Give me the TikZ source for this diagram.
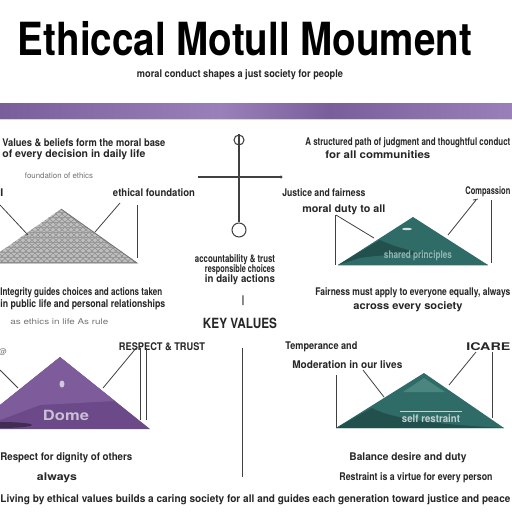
\documentclass[tikz,border=0pt]{standalone}
\usepackage{fontspec}
\setmainfont{TeX Gyre Heros}
\usepackage{graphicx}
\usetikzlibrary{positioning}
\definecolor{barpurple}{HTML}{7A5E9C}
\definecolor{barlight}{HTML}{9A80B8}
\definecolor{pyrpurple}{HTML}{6C4A8A}
\definecolor{pyrpurplel}{HTML}{7E5C9C}
\definecolor{pyrgreen}{HTML}{2F6B67}
\definecolor{pyrgreend}{HTML}{22504D}
\definecolor{pyrgreenl}{HTML}{4A8580}
\newlength\pxu
\setlength\pxu{0.02cm}
\newcommand{\fitw}[2]{\resizebox{#1\pxu}{\height}{#2}}
\tikzset{every node/.style={inner sep=0pt},
    txt/.style={font=\bfseries\fontsize{6}{7}\selectfont, text=black!85},
    faint/.style={font=\fontsize{4.5}{5}\selectfont, text=black!55},
    inner/.style={font=\bfseries\fontsize{6}{7}\selectfont},
    leader/.style={draw=black!75, line width=0.45pt},
    ttl/.style={font=\bfseries\fontsize{26}{26}\selectfont}}

\begin{document}
\begin{tikzpicture}[x=0.02cm, y=-0.02cm]
    \useasboundingbox (0,0) rectangle (512,512);
    \fill[white] (0,0) rectangle (512,512);

    % heading
    \node[ttl] (title) at (245,39) {\fitw{454}{Ethiccal Motull Moument}};
    \node[txt] (sub) at (240,75) {\fitw{206}{moral conduct shapes a just society for people}};
    \shade[left color=barpurple, right color=barlight] (0,103) rectangle (220,118);
    \shade[left color=barlight, right color=barpurple] (220,103) rectangle (330,118);
    \shade[left color=barpurple, right color=barlight] (330,103) rectangle (512,118);
    \draw[black!15] (0,119.5) -- (512,119.5);

    % top left block
    \node[txt, anchor=west] (tl1) at (2,143) {\fitw{163}{Values \& beliefs form the moral base}};
    \node[txt, anchor=west] (tl2) at (2,155) {\fitw{143}{of every decision in daily life}};
    \node[faint] (tl3) at (59,176) {\fitw{68}{foundation of ethics}};
    \node[txt, anchor=west] (lA) at (0,193) {I};
    \node[txt] (lB) at (154,193) {\fitw{82}{ethical foundation}};
    \fill[black!25] (61,209) -- (137,263) -- (0,263) -- (0,252) -- cycle;
    \begin{scope}
        \clip (61,209) -- (137,263) -- (0,263) -- (0,252) -- cycle;
        \foreach \i in {-140,-134,...,140} {
            \draw[black!45, line width=0.3pt] (\i,200) -- (\i+80,270);
            \draw[black!45, line width=0.3pt] (\i,270) -- (\i+80,200);
        }
        \foreach \j in {212,217,...,263}
            \draw[black!40, line width=0.25pt] (0,\j) -- (140,\j);
    \end{scope}
    \draw[black!55, line width=0.5pt] (61,209) -- (137,263) -- (0,263);
    \draw[leader] (0,205) -- (28,235);
    \draw[leader] (120,203) -- (95,232);
    \draw[leader] (137,205) -- (137,258);
    \node[txt, anchor=west] (bl1) at (0,293) {\fitw{162}{Integrity guides choices and actions taken}};
    \node[txt, anchor=west] (bl2) at (0,305) {\fitw{165}{in public life and personal relationships}};

    % centre symbol
    \coordinate (hl) at (198,177);
    \coordinate (hr) at (281,177);
    \node[draw=black!75, circle, minimum size=10\pxu, line width=0.6pt] (ctop) at (239,140) {};
    \node[draw=black!75, circle, minimum size=14\pxu, line width=0.6pt] (cbot) at (239,230) {};
    \draw[black!75, line width=0.6pt] (ctop.north) -- (cbot.north);
    \draw[black!75, line width=0.6pt] (hl) -- (hr);
    \fill[black!75] (hr) circle (1.6);
    \node[txt] (c1) at (235,260) {\fitw{80}{accountability \& trust}};
    \node[txt] (c2) at (240,270) {\fitw{70}{responsible choices}};
    \node[txt] (c3) at (240,280) {\fitw{70}{in daily actions}};
    \node[txt] (c4) at (243,301) {|};
    \node[txt, font=\bfseries\fontsize{8}{9}\selectfont] (c5) at (240,323) {\fitw{74}{KEY VALUES}};

    % top right block
    \node[txt, anchor=west] (tr1) at (305,143) {\fitw{205}{A structured path of judgment and thoughtful conduct}};
    \node[txt, anchor=west] (tr2) at (325,155) {\fitw{105}{for all communities}};
    \node[txt, anchor=west] (gA) at (282,193) {\fitw{83}{Justice and fairness}};
    \node[txt, anchor=west] (gB) at (302,210) {\fitw{83}{moral duty to all}};
    \node[txt, anchor=west] (gC) at (465,192) {\fitw{45}{Compassion}};
    \fill[pyrgreen] (413,217) -- (488,265) -- (338,265) -- cycle;
    \fill[pyrgreend] (338,265) -- (380,240) .. controls (400,250) and (440,258) .. (488,265) -- cycle;
    \fill[pyrgreen] (360,258) .. controls (400,252) and (440,255) .. (488,265) -- (338,265) -- cycle;
    \fill[white!80!pyrgreen] (407,229) ellipse (5 and 1.2);
    \node[inner, text=pyrgreenl!60!white] (gI) at (418,256) {\fitw{68}{shared principles}};
    \draw[leader] (335,215) -- (335,265);
    \draw[leader] (336,215) -- (374,238);
    \draw[leader] (473,200) -- (478,199) (476,200) -- (448,235);
    \draw[leader] (491,200) -- (491,263);
    \node[txt, anchor=west] (gr1) at (315,293) {\fitw{195}{Fairness must apply to everyone equally, always}};
    \node[txt] (gr2) at (408,307) {\fitw{109}{across every society}};

    % bottom left block
    \node[faint, anchor=west] (pl0) at (10,322) {\fitw{98}{as ethics in life  As rule}};
    \node[txt] (pA) at (162,347) {\fitw{86}{RESPECT \& TRUST}};
    \node[faint] (pB) at (3,352) {@};
    \fill[pyrpurple] (60,357) -- (150,429) -- (0,429) -- (0,405) -- cycle;
    \fill[pyrpurplel] (60,357) -- (115,401) -- (40,405) -- (0,420) -- (0,405) -- cycle;
    \fill[pyrpurple!60!black] (0,425) ellipse (32 and 3);
    \fill[white!70!pyrpurple] (62,384) ellipse (2.5 and 3.5);
    \node[inner, font=\bfseries\fontsize{8}{9}\selectfont, text=white!65!pyrpurple] (pI) at (66,415) {\fitw{46}{Dome}};
    \draw[leader] (0,370) -- (18,388);
    \draw[leader] (137,347) -- (103,388);
    \draw[leader] (140,348) -- (140,420);
    \draw[leader] (146,348) -- (146,420);
    \draw[leader] (242,348) -- (242,477);
    \node[txt, anchor=west] (pl1) at (0,458) {\fitw{132}{Respect for dignity of others}};
    \node[txt] (pl2) at (57,478) {\fitw{40}{always}};

    % bottom right block
    \node[txt, anchor=west] (qA) at (285,347) {\fitw{72}{Temperance and}};
    \node[txt, anchor=west] (qB) at (292,365) {\fitw{110}{Moderation in our lives}};
    \node[txt, anchor=west] (qC) at (466,347) {\fitw{44}{ICARE}};
    \fill[pyrgreen] (424,373) -- (504,428) -- (336,428) -- cycle;
    \fill[pyrgreenl] (424,378) -- (445,392) -- (403,392) -- cycle;
    \fill[pyrgreend] (336,428) -- (372,408) .. controls (390,418) and (430,424) .. (504,428) -- cycle;
    \draw[white!70!pyrgreen, line width=0.5pt] (400,411) -- (462,411);
    \node[inner, text=white!70!pyrgreen] (qI) at (431,419) {\fitw{58}{self restraint}};
    \draw[leader] (336,375) -- (336,428);
    \draw[leader] (363,370) -- (384,397);
    \draw[leader] (476,352) -- (449,385);
    \draw[leader] (492,352) -- (492,418);
    \node[txt] (ql1) at (408,458) {\fitw{117}{Balance desire and duty}};
    \node[txt] (ql2) at (416,478) {\fitw{153}{Restraint is a virtue for every person}};

    % bottom line
    \node[txt, anchor=west] (ft1) at (0,500) {\fitw{254}{Living by ethical values builds a caring society  for all}};
    \node[txt, anchor=west] (ft2) at (257,500) {\fitw{253}{and guides each generation toward justice  and peace}};
\end{tikzpicture}
\end{document}
